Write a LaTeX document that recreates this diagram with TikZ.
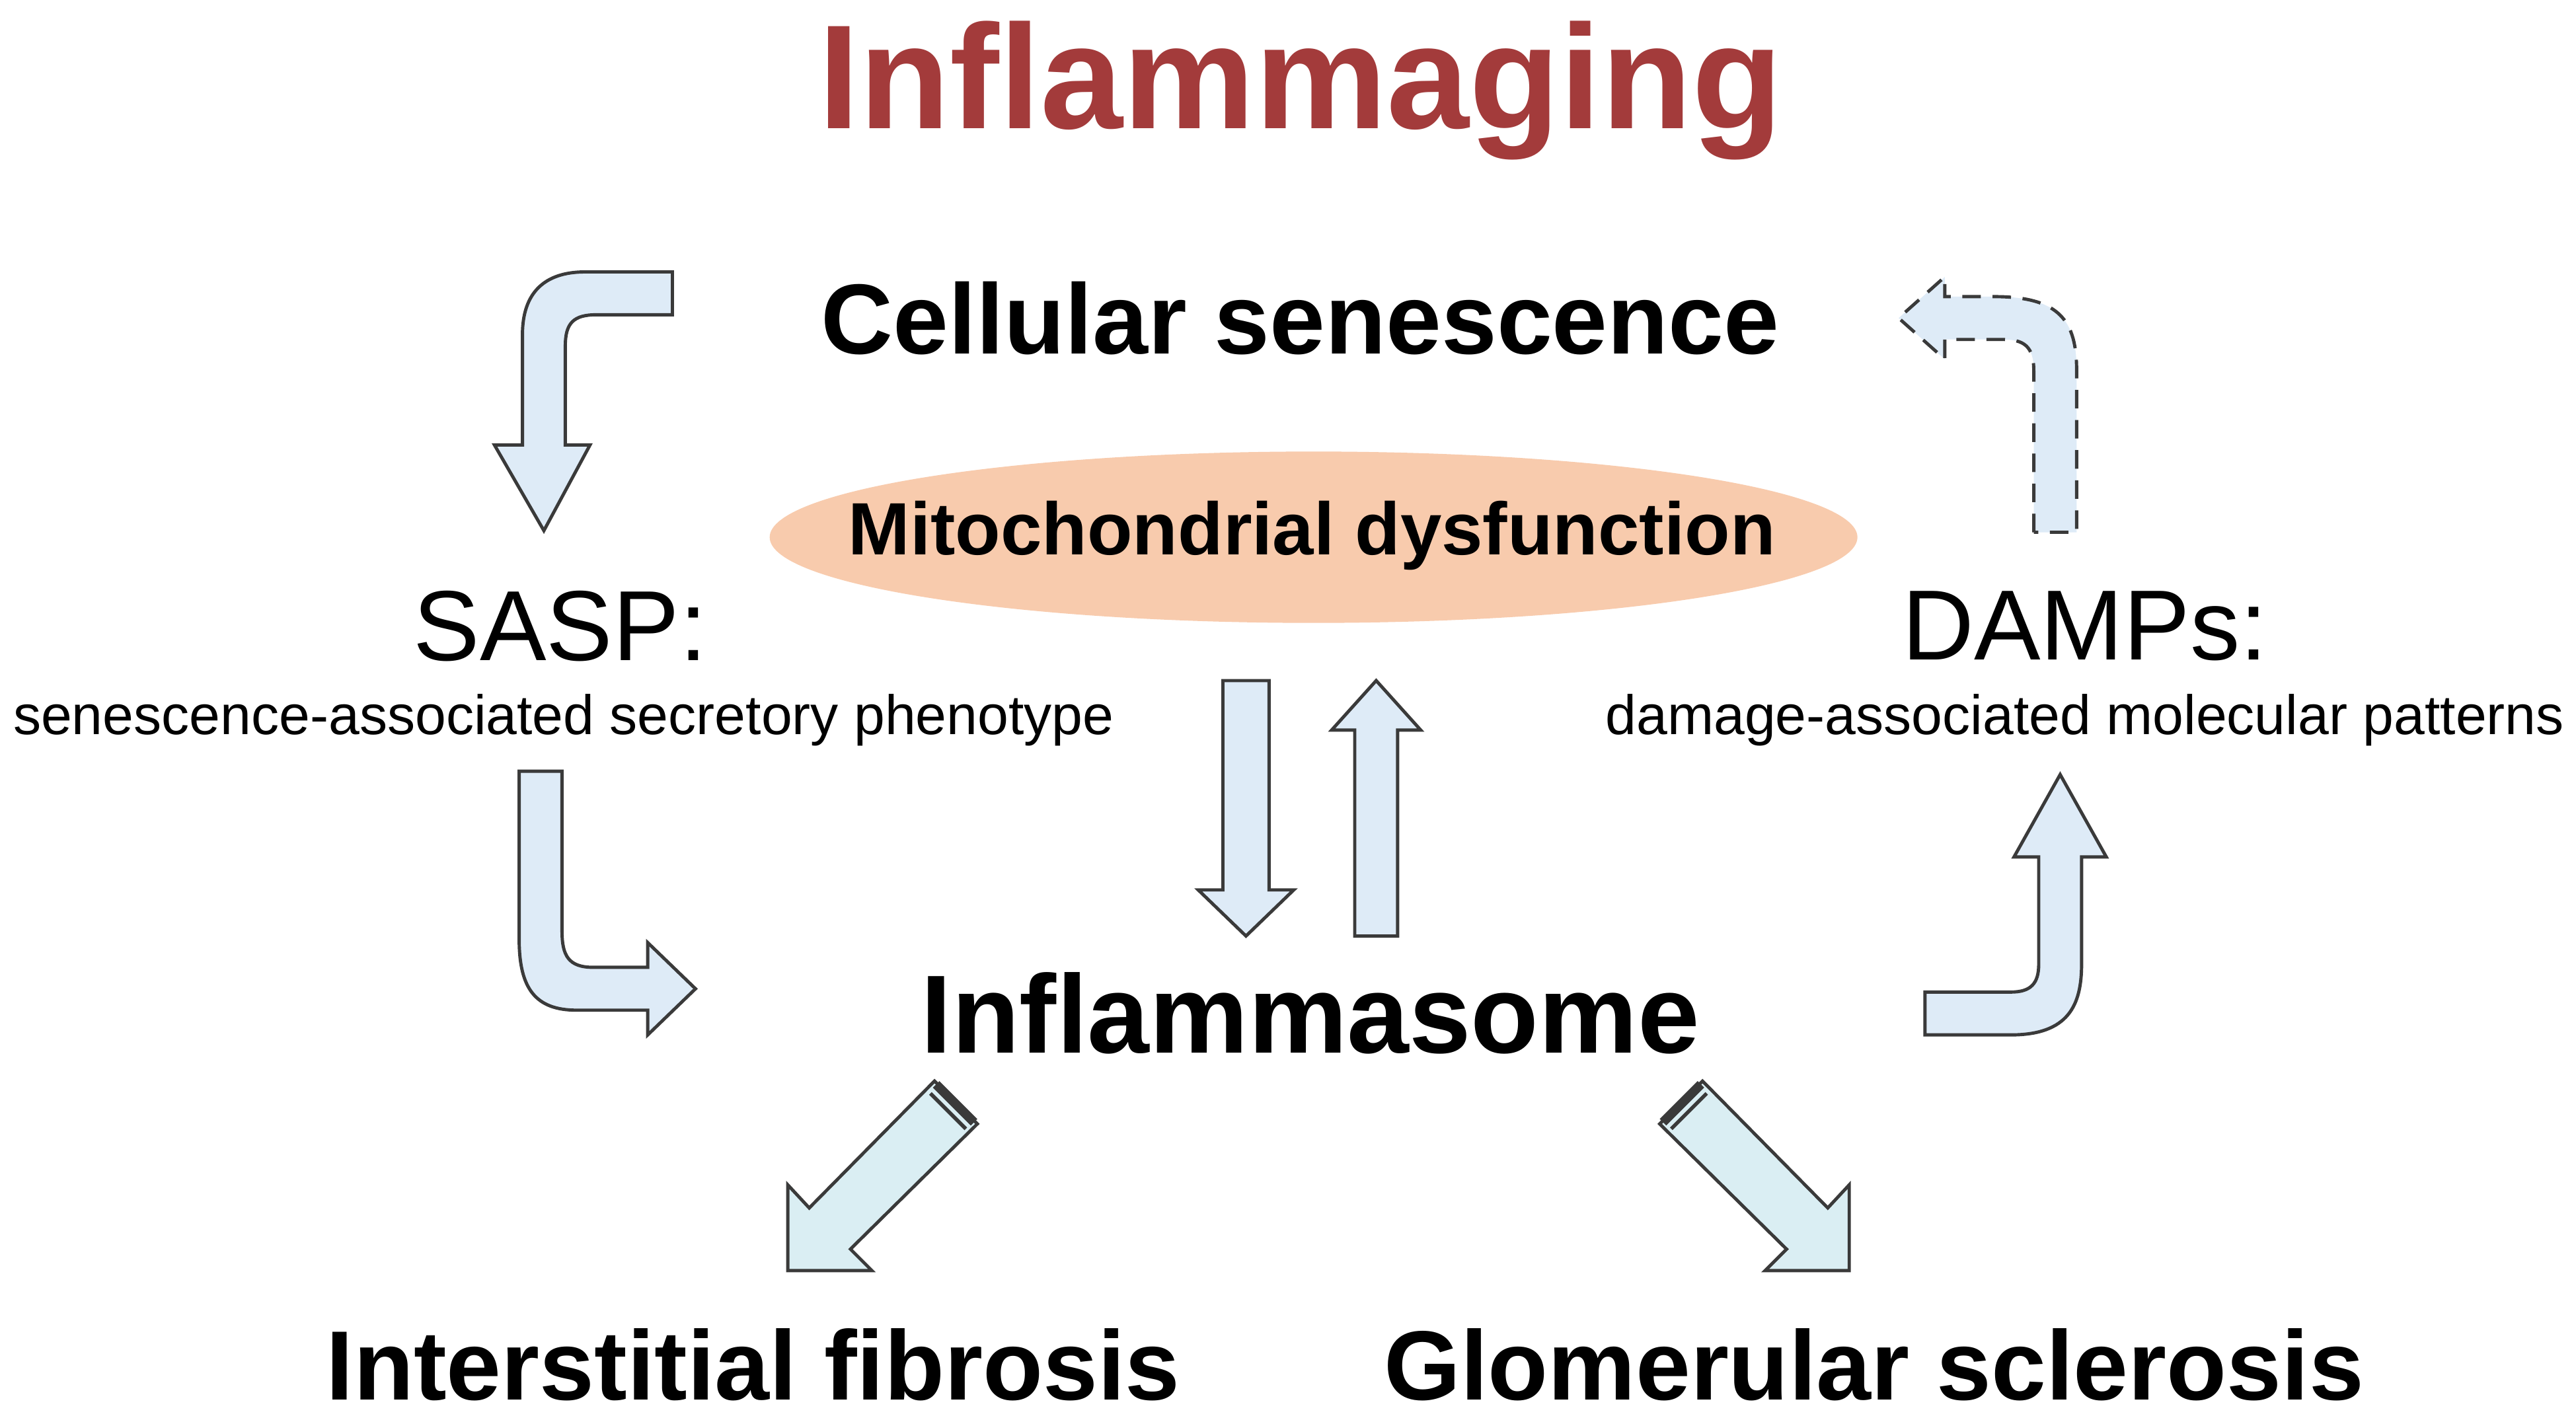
\documentclass[tikz,border=0pt]{standalone}
\usepackage{fontspec}
\setmainfont{Liberation Sans}
\definecolor{tred}{HTML}{A33B3B}
\definecolor{afill}{HTML}{DEEBF7}
\definecolor{dfill}{HTML}{DAEEF3}
\definecolor{peach}{HTML}{F8CBAD}
\definecolor{ol}{HTML}{3A3A3A}
\begin{document}
\begin{tikzpicture}[x=0.025cm,y=-0.025cm,
  blk/.style={fill=afill,draw=ol,line width=1.4pt,line join=miter},
  dg/.style={fill=dfill,draw=ol,line width=1.4pt,line join=miter},
  txt/.style={inner sep=0pt,anchor=center}]
\useasboundingbox (0,0) rectangle (1563,862.5);
% texts
\node[txt,text=tred,font=\fontsize{64}{64}\selectfont\bfseries] (title) at (789,55) {Inflammaging};
\node[txt,font=\fontsize{43}{43}\selectfont\bfseries] (cs) at (789,193) {Cellular senescence};
\fill[peach] (797,326) ellipse [x radius=330, y radius=-52];
\node[txt,font=\fontsize{32}{32}\selectfont\bfseries] (mito) at (796,325) {Mitochondrial dysfunction};
\node[txt,font=\fontsize{43}{43}\selectfont] (sasp) at (340,380) {SASP:};
\node[txt,font=\fontsize{24}{24}\selectfont] (sasps) at (342,437) {senescence-associated secretory phenotype};
\node[txt,font=\fontsize{43}{43}\selectfont] (damp) at (1265,380) {DAMPs:};
\node[txt,font=\fontsize{24}{24}\selectfont] (damps) at (1265,437) {damage-associated\ molecular\ patterns};
\node[txt,font=\fontsize{48}{48}\selectfont\bfseries] (infl) at (795,615) {Inflammasome};
\node[txt,font=\fontsize{42.5}{43}\selectfont\bfseries] (fib) at (457,828) {Interstitial fibrosis};
\node[txt,font=\fontsize{42.5}{43}\selectfont\bfseries] (scl) at (1137,828) {Glomerular sclerosis};
% arrow 1 top-left
\draw[blk] (408,165) -- (355,165) .. controls (330,165) and (317,178) .. (317,203) -- (317,270) -- (300,270) -- (330,322) -- (358,270) -- (343,270) -- (343,210) .. controls (343,196) and (348,191) .. (362,191) -- (408,191) -- cycle;
% arrow 2 left-bottom
\draw[blk] (315,468) -- (315,570) .. controls (315,600) and (325,613) .. (350,613) -- (393,613) -- (393,628) -- (422,600) -- (393,572) -- (393,587) -- (360,587) .. controls (345,587) and (341,580) .. (341,565) -- (341,468) -- cycle;
% middle arrows
\draw[blk] (742,413) -- (770,413) -- (770,540) -- (785,540) -- (756,568) -- (727,540) -- (742,540) -- cycle;
\draw[blk] (822,568) -- (848,568) -- (848,443) -- (862,443) -- (835,413) -- (808,443) -- (822,443) -- cycle;
% arrow right-bottom
\draw[blk] (1168,628) -- (1220,628) .. controls (1255,628) and (1263,610) .. (1263,585) -- (1263,520) -- (1278,520) -- (1250,470) -- (1222,520) -- (1237,520) -- (1237,585) .. controls (1237,597) and (1232,602) .. (1220,602) -- (1168,602) -- cycle;
% dashed top-right
\draw[blk,dash pattern=on 8pt off 5pt] (1234,323) -- (1234,225) .. controls (1234,210) and (1228,206) .. (1215,206) -- (1180,206) -- (1180,218) -- (1152,193) -- (1180,168) -- (1180,180) -- (1210,180) .. controls (1250,180) and (1260,195) .. (1260,225) -- (1260,323) -- cycle;
% diagonal left
\draw[dg] (478,771) -- (478,719) -- (491,733) -- (567,656) -- (593,682) -- (516,758) -- (529,771) -- cycle;
\draw[ol,line width=4pt] (568,658) -- (591,681);
\draw[ol,line width=1.6pt] (564.5,663.5) -- (586,685);
% diagonal right
\draw[dg] (1122,771) -- (1122,719) -- (1109,733) -- (1033,656) -- (1007,682) -- (1084,758) -- (1071,771) -- cycle;
\draw[ol,line width=4pt] (1032,658) -- (1009,681);
\draw[ol,line width=1.6pt] (1035.5,663.5) -- (1014,685);
\end{tikzpicture}
\end{document}
